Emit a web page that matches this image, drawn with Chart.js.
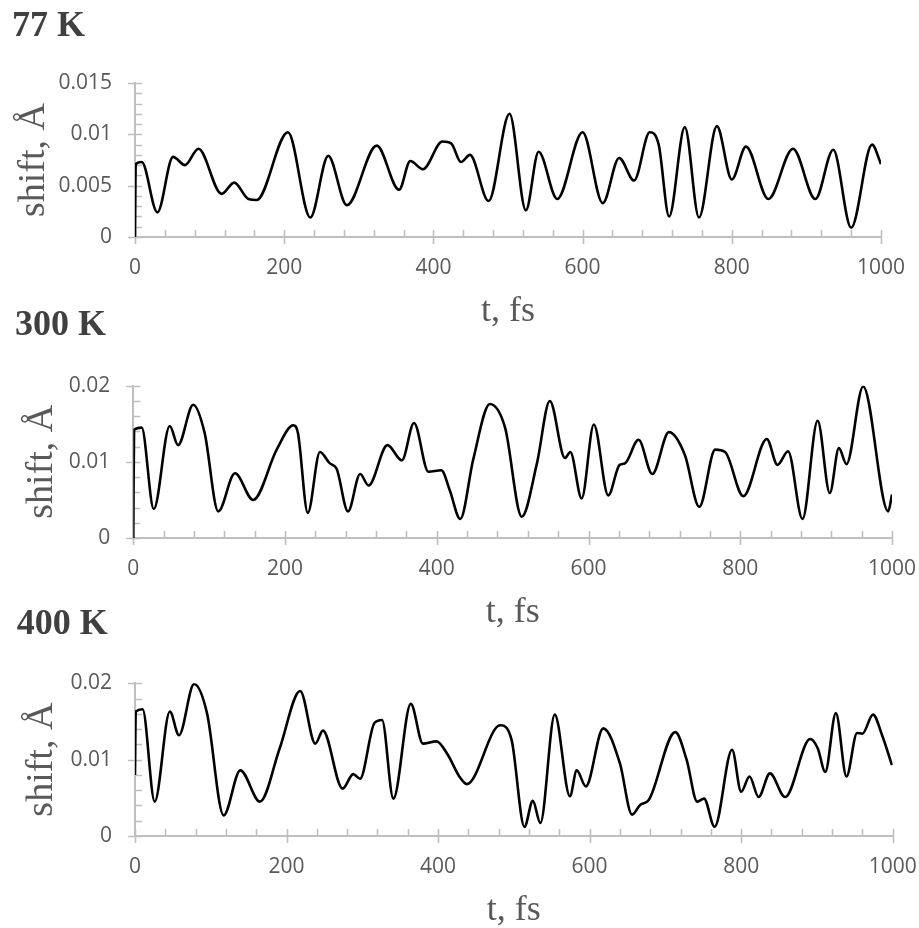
<!DOCTYPE html>
<html><head><meta charset="utf-8">
<script src="https://cdn.jsdelivr.net/npm/chart.js@4.4.0/dist/chart.umd.min.js"></script>
<style>
html,body{margin:0;padding:0;background:#fff;overflow:hidden;width:919px;height:928px;position:relative;}
canvas{position:absolute;left:0;}
</style></head><body>
<canvas id="c77" width="919" height="333" style="top:0px"></canvas>
<canvas id="c300" width="919" height="334" style="top:300px"></canvas>
<canvas id="c400" width="919" height="334" style="top:598px"></canvas>
<script>
// ---- data (t in fs, shift in Å) ----
const t77 = [0,1,9,30,51,67,85,116,133,152,163,205,235,259,284,324,354,369,386,412,424,437,449,474,502,524,541,566,600,627,649,669,690,702,716,737,756,780,800,819,849,882,912,936,960,988,1000];
const shift77 = [0,0.0071,0.0073,0.0024,0.0078,0.0070,0.0086,0.0042,0.0053,0.0037,0.0036,0.0102,0.0019,0.0079,0.0031,0.0089,0.0046,0.0074,0.0066,0.0093,0.0091,0.0073,0.0080,0.0035,0.0120,0.0026,0.0083,0.0037,0.0102,0.0033,0.0077,0.0055,0.0102,0.0090,0.0020,0.0107,0.0019,0.0108,0.0056,0.0088,0.0037,0.0086,0.0037,0.0085,0.0009,0.0090,0.0071];

const t300 = [0,1,11,27,48,59,79,94,112,134,158,189,211,217,230,246,259,268,283,299,310,335,354,370,389,406,417,431,448,470,490,512,532,549,569,576,591,607,626,641,648,666,684,706,727,746,767,780,804,835,849,863,882,902,918,930,940,962,995,1000];
const shift300 = [0,0.0142,0.0145,0.0038,0.0147,0.0122,0.0175,0.0138,0.0035,0.0085,0.0050,0.0116,0.0148,0.0138,0.0033,0.0113,0.0098,0.0091,0.0035,0.0084,0.0069,0.0122,0.0102,0.0151,0.0087,0.0089,0.0063,0.0025,0.0103,0.0176,0.0145,0.0028,0.0098,0.0180,0.0105,0.0113,0.0052,0.0149,0.0056,0.0096,0.0098,0.0129,0.0084,0.0139,0.0109,0.0041,0.0116,0.0113,0.0055,0.0130,0.0096,0.0114,0.0025,0.0154,0.0059,0.0118,0.0097,0.0199,0.0035,0.0057];

const t400 = [0,1,10,26,46,58,78,95,117,139,165,191,218,238,248,274,288,297,316,326,341,364,380,398,413,428,438,482,497,514,525,535,554,574,583,595,618,640,656,667,678,713,728,742,751,765,788,800,811,823,838,858,891,901,911,925,939,953,960,974,986,999];
const shift400 = [0.0080,0.0163,0.0166,0.0045,0.0163,0.0132,0.0199,0.0161,0.0027,0.0086,0.0045,0.0115,0.0190,0.0121,0.0138,0.0062,0.0081,0.0075,0.0148,0.0152,0.0049,0.0173,0.0121,0.0124,0.0106,0.0078,0.0068,0.0145,0.0126,0.0012,0.0046,0.0017,0.0159,0.0052,0.0086,0.0065,0.0141,0.0095,0.0028,0.0041,0.0047,0.0136,0.0100,0.0045,0.0049,0.0012,0.0113,0.0058,0.0078,0.0051,0.0082,0.0051,0.0127,0.0115,0.0084,0.0161,0.0078,0.0135,0.0134,0.0159,0.0132,0.0093];

// ---- axis ticks ----
const xMin = 0, xMax = 1000, xMajorStep = 200, xMinorStep = 40;
const yMax77 = 0.015, yMajor77 = 0.005, yMinor77 = 0.001;
const yMaxHot = 0.02, yMajorHot = 0.01, yMinorHot = 0.002;
const panelTitles = ['77 K', '300 K', '400 K'];
const xTitle = 't, fs';
const yTitle = 'shift, Å';

const AXIS = '#bfbfbf';
const LABEL = '#595959';

function isMajor(v, step) { return Math.abs(v / step - Math.round(v / step)) < 1e-6; }
function fmt(v) { return String(parseFloat(v.toFixed(5))); }

const tickMarks = {
  id: 'tickMarks',
  beforeDatasetsDraw(chart, args, opts) {
    const ctx = chart.ctx;
    const xs = chart.scales.x, ys = chart.scales.y;
    ctx.save();
    ctx.strokeStyle = AXIS;
    ctx.lineWidth = 1.6;
    ctx.beginPath();
    const y0 = xs.top;
    xs.ticks.forEach(tk => {
      const px = Math.round(xs.getPixelForValue(tk.value)) + 0.5;
      if (isMajor(tk.value, opts.xMajor)) { ctx.moveTo(px, y0 - 7); ctx.lineTo(px, y0 + 7); }
      else { ctx.moveTo(px, y0 - 7); ctx.lineTo(px, y0); }
    });
    const x0 = ys.right;
    ys.ticks.forEach(tk => {
      const py = Math.round(ys.getPixelForValue(tk.value)) + 0.5;
      if (isMajor(tk.value, opts.yMajor)) { ctx.moveTo(x0 - 7, py); ctx.lineTo(x0 + 7, py); }
      else { ctx.moveTo(x0, py); ctx.lineTo(x0 + 7, py); }
    });
    ctx.stroke();
    ctx.restore();
  }
};

function makeChart(id, title, t, v, c) {
  const data = t.map((x, i) => ({x: x, y: v[i]}));
  return new Chart(document.getElementById(id), {
    type: 'line',
    data: { datasets: [{
      data: data,
      borderColor: '#000',
      borderWidth: 2.6,
      pointRadius: 0,
      fill: false,
      cubicInterpolationMode: 'monotone'
    }]},
    plugins: [tickMarks],
    options: {
      responsive: false,
      animation: false,
      events: [],
      layout: { padding: { left: c.left, right: c.right, top: 0, bottom: 0 } },
      plugins: {
        legend: { display: false },
        tooltip: { enabled: false },
        title: {
          display: true, text: title, align: 'start', color: '#404040',
          font: { family: 'Liberation Serif', size: 36, weight: 'bold', lineHeight: 1.2 },
          padding: { top: c.titleTop, bottom: c.titleBottom }
        },
        tickMarks: { xMajor: xMajorStep, yMajor: c.yMajor }
      },
      scales: {
        x: {
          type: 'linear', min: xMin, max: xMax,
          border: { display: true, color: AXIS, width: 2 },
          grid: { display: false, drawTicks: true, tickLength: 18 },
          ticks: {
            stepSize: xMinorStep, autoSkip: false, maxRotation: 0, padding: 0,
            color: LABEL, font: { family: 'Open Sans', size: 21 },
            callback: (val) => isMajor(val, xMajorStep) ? fmt(val) : ''
          },
          title: {
            display: true, text: xTitle, color: LABEL,
            font: { family: 'Liberation Serif', size: 36, lineHeight: 1.2 },
            padding: { top: 0, bottom: 0 }
          },
          afterFit: (s) => { s.height = c.xHeight; }
        },
        y: {
          min: 0, max: c.yMax,
          border: { display: true, color: AXIS, width: 2 },
          grid: { display: false, drawTicks: true, tickLength: 23 },
          ticks: {
            stepSize: c.yMinor, autoSkip: false, padding: 0,
            color: LABEL, font: { family: 'Open Sans', size: 21 },
            callback: (val) => isMajor(val, c.yMajor) ? fmt(val) : ''
          },
          title: {
            display: true, text: yTitle, color: LABEL,
            font: { family: 'Liberation Serif', size: 38, lineHeight: 1 },
            padding: { top: c.yTitlePad, bottom: 0 }
          },
          afterFit: (s) => { s.width = c.yWidth; }
        }
      }
    }
  });
}

makeChart('c77', panelTitles[0], t77, shift77, {
  left: 12, right: 38, titleTop: 5.2, titleBottom: 34.6, xHeight: 96, yWidth: 123,
  yMax: yMax77, yMajor: yMajor77, yMinor: yMinor77, yTitlePad: 2.9
});
makeChart('c300', panelTitles[1], t300, shift300, {
  left: 15, right: 27, titleTop: 4.4, titleBottom: 38.1, xHeight: 96, yWidth: 118.3,
  yMax: yMaxHot, yMajor: yMajorHot, yMinor: yMinorHot, yTitlePad: 8.2
});
makeChart('c400', panelTitles[2], t400, shift400, {
  left: 16.7, right: 26.3, titleTop: 5.4, titleBottom: 36.7, xHeight: 96, yWidth: 118.3,
  yMax: yMaxHot, yMajor: yMajorHot, yMinor: yMinorHot, yTitlePad: 6.5
});
</script>
</body></html>
